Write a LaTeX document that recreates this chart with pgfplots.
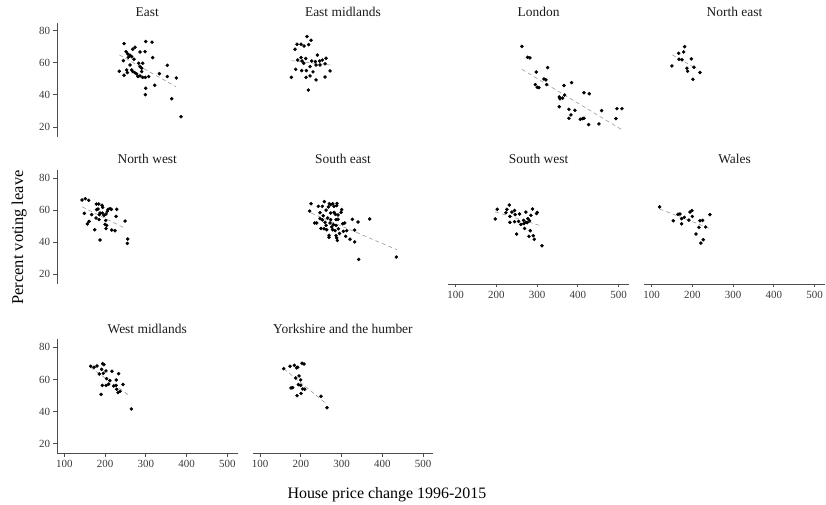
\documentclass[border=0pt]{standalone}
\usepackage{fontspec}
\setmainfont{Liberation Serif}
\usepackage{pgfplots}
\pgfplotsset{compat=1.18}
\definecolor{axcol}{HTML}{4D4D4D}
\definecolor{tickcol}{HTML}{3A3A3A}
\definecolor{titlecol}{HTML}{1A1A1A}
\definecolor{lmcol}{gray}{0.6}
\pgfplotsset{
  every axis title shift=0pt,
  panel/.style={
    scale only axis, width=180.5bp, height=114bp,
    xmin=82, xmax=525, ymin=14, ymax=85,
    xtick={100,200,300,400,500}, ytick={20,40,60,80},
    axis x line*=bottom, axis y line*=left,
    tick align=outside, major tick length=3.5bp,
    axis line style={draw=axcol, line width=0.8bp},
    tick style={draw=axcol, line width=0.8bp},
    tick label style={font=\fontsize{11}{13}\selectfont, text=tickcol},
    /pgf/number format/assume math mode=true,
    title style={at={(0.5,1)}, anchor=base, yshift=6bp, font=\fontsize{13.5}{16}\selectfont, text=titlecol},
    clip=false, anchor=south west,
  },
  pts/.style={only marks, mark=*, mark size=1.5bp, black, mark options={fill=black, draw=black, line width=0.5bp}},
  fit/.style={draw=lmcol, dash pattern=on 4bp off 3bp, line width=0.6bp, mark=none},
}
\begin{document}
\begin{tikzpicture}
\useasboundingbox (0,0) rectangle (826bp,505bp);
% Row 1
\begin{axis}[panel, at={(57bp,368.4bp)}, title={East}, hide x axis]
\addplot[pts] coordinates {(246.5,71.9)(299.7,73.2)(315.3,72.8)(267.8,68.4)(273.5,69.6)(285.8,66.7)(298,66.9)(251.4,66.9)(255.5,65.5)(261.2,64.7)(257.1,63.4)(265.3,63.8)(244.9,61.3)(271,62.2)(316.8,63.2)(261.2,58.6)(282.5,59.7)(292.3,59.7)(285.8,57.6)(289.9,56.6)(235,54.7)(253,55.5)(254.7,53.9)(267.8,54.5)(272.6,53.9)(277.5,53)(280.8,51.4)(285.8,51.8)(292.3,50.9)(298.8,50.9)(307,51.4)(246.5,52.2)(333.2,53.2)(352.8,58.4)(352.8,51.4)(374.9,50.5)(299.7,44.1)(321.8,46)(298.8,40.1)(363.5,37.6)(386.4,26.4)(265.3,55.5)(289.9,54.5)};
\addplot[fit] coordinates {(235,64.9)(374,45.1)};
\end{axis}
\begin{axis}[panel, at={(252.7bp,368.4bp)}, title={East midlands}, hide x axis, hide y axis]
\addplot[pts] coordinates {(215.3,76.3)(225.2,74)(190.8,71.5)(200.6,71.5)(208,70.4)(219.4,71.3)(185.9,68.4)(240.7,64.8)(200.6,63.2)(212.1,62.6)(192.4,61.7)(203.1,61.1)(207.2,59.7)(226.8,61.1)(235.8,60.7)(246.4,61.1)(253,61.7)(262,62.8)(237.4,58.6)(247.2,58.6)(259.5,59.3)(222.7,57.6)(187.5,55.9)(202.2,55.1)(213.7,55.1)(230,54.3)(271.8,54.9)(176.9,50.9)(212.9,50.9)(222.7,51.8)(237.4,49.3)(259.5,51.1)(218.6,43)};
\addplot[fit] coordinates {(176.9,61.3)(271.8,58.6)};
\end{axis}
\begin{axis}[panel, at={(448.3bp,368.4bp)}, title={London}, hide x axis, hide y axis]
\addplot[pts] coordinates {(262.7,70.2)(276.6,63.4)(282.3,63)(297.9,54.2)(325.7,57)(295.5,46.4)(300.4,44.7)(304.5,44.5)(316.7,49.9)(321.6,49.3)(323.3,46.4)(365.8,45.8)(384.6,47.6)(414.9,41.3)(428,40.7)(354.3,38.7)(356,37.6)(362.5,38)(367.4,39.9)(354.3,32.6)(378,31)(392.7,30.4)(383,27.5)(378,25.4)(405.9,24.8)(411.6,25.2)(414.9,25.4)(426.3,21.5)(451.7,21.9)(458.2,30.2)(493.4,25.2)(495.9,31.4)(508.2,31.4)};
\addplot[fit] coordinates {(262.7,55.9)(506.6,18.5)};
\end{axis}
\begin{axis}[panel, at={(644.3bp,368.4bp)}, title={North east}, hide x axis, hide y axis]
\addplot[pts] coordinates {(181,70)(166.3,65.9)(178.5,66.7)(167.1,62.2)(174.5,61.8)(197.3,62.4)(149.8,58)(186.6,56.6)(188.3,54.7)(203.8,57.2)(218.5,53.9)(201.3,49.7)};
\addplot[fit] coordinates {(150.6,64.9)(212,56)};
\end{axis}
% Row 2
\begin{axis}[panel, at={(57bp,221bp)}, title={North west}, hide x axis]
\addplot[pts] coordinates {(143.5,66.3)(151.6,67.1)(159.8,66.1)(149.1,58)(167.1,57.2)(156.5,51.4)(160.6,53)(174.5,47.8)(187.6,41.4)(178.6,63.8)(184.3,63.8)(192.5,63)(194.2,61.7)(179.4,60.3)(182.7,60.7)(187.6,58.2)(193.3,58.2)(186,57.2)(202.3,57.6)(205.6,59.3)(177.8,55.1)(185.1,54.1)(197.5,56.8)(201.6,53.6)(199.9,51.1)(204,50.5)(202.3,48.5)(207.3,60.5)(212.2,60.9)(215.5,60.5)(228.6,60.5)(227,56.1)(216.3,47.6)(224.4,47.2)(249.1,53.2)(255.6,42)(254.7,39.3)};
\addplot[fit] coordinates {(143.5,62.1)(248.2,48.8)};
\end{axis}
\begin{axis}[panel, at={(252.7bp,221bp)}, title={South east}, hide x axis, hide y axis]
\addplot[pts] coordinates {(225.2,64)(221.9,59.4)(243.1,62.4)(252.9,62.4)(257.8,65.3)(270.1,64)(273.4,63.4)(278.3,64)(288.9,64.2)(267.7,62)(281.6,62.4)(288.1,62.8)(300.4,60.3)(298.8,58.6)(247.2,58.4)(273.4,58.2)(281.6,58.6)(284.9,57.4)(291.4,57)(247.2,54.7)(252.9,53.9)(266,55.1)(273.4,54.1)(286.5,54.1)(291.4,54.3)(234.2,52)(239.1,52)(259.5,52.4)(271.8,52)(280,51)(286.5,50.5)(302.9,51.5)(307.8,52)(326.6,54.3)(340.5,52.6)(369.1,54.5)(249.7,48.6)(257.1,48.4)(263.6,47.8)(278.3,47.8)(284.1,47.2)(292.2,48.4)(304.5,46.8)(312.7,47.2)(332.3,47.6)(269.3,44.3)(269.3,43.1)(286.5,44.1)(288.1,42.7)(289.8,41.1)(310.2,43.7)(320.9,41.9)(332.3,40.2)(342.1,29.3)(434.6,30.8)(262,50.5)(276,49.5)(295,45.5)(255,56.5)(262,60)};
\addplot[fit] coordinates {(225.2,58.2)(435.4,35.4)};
\end{axis}
\begin{axis}[panel, at={(448.3bp,221bp)}, title={South west}, hide y axis]
\addplot[pts] coordinates {(202.1,60.5)(197.2,54.5)(225.9,60.5)(231.6,63.2)(223.4,58.4)(233.2,56.1)(238.1,58.8)(244.6,59.8)(246.2,57.2)(256.8,57.6)(272.4,58.8)(277.3,54.7)(284.7,56.8)(281.4,53.4)(288.8,60.7)(300.3,58.6)(298.7,57.9)(233.2,52.4)(244.6,52.8)(254.4,53)(260.2,51.1)(266.7,53.6)(272.4,52.4)(267.5,51.6)(249.7,45.1)(269.2,48.6)(275.7,52.2)(283.2,47.2)(279.9,43.7)(290.5,44.1)(293,41.8)(311.8,37.8)};
\addplot[fit] coordinates {(197.2,59)(308.5,50.3)};
\end{axis}
\begin{axis}[panel, at={(644.3bp,221bp)}, title={Wales}, hide y axis]
\addplot[pts] coordinates {(119.6,62)(153.2,53.4)(164.6,57.4)(169.5,57.6)(173.6,54.7)(180.1,55.5)(191.5,53.8)(194,58.8)(198.9,59.7)(199.7,56.1)(173.6,51.5)(218.5,53.4)(225,53.6)(216.1,49.3)(232.5,49.5)(243.1,57.2)(208.8,45.1)(226.6,41.6)(220.9,39.5)};
\addplot[fit] coordinates {(119.6,60.7)(244.7,48.4)};
\end{axis}
% Row 3
\begin{axis}[panel, at={(57bp,51.7bp)}, title={West midlands}]
\addplot[pts] coordinates {(164.7,68.2)(172.9,67.6)(180.2,68.4)(194,69.8)(197.2,69.2)(191.5,66.3)(185.9,63.4)(195.6,63.8)(202.1,65.3)(216.8,65.1)(233.2,63.6)(203.7,60.5)(211.8,59.3)(227.4,59.7)(193.3,56.3)(202.3,56.3)(208.8,57.1)(221.2,55.9)(226.9,56.3)(244,56.9)(228.6,53.9)(231.8,51.8)(236.7,52.6)(190.1,50.7)(264.5,41.6)};
\addplot[fit] coordinates {(164.7,67.5)(256.3,50.5)};
\end{axis}
\begin{axis}[panel, at={(252.7bp,51.7bp)}, title={Yorkshire and the humber}, hide y axis]
\addplot[pts] coordinates {(158.1,66.7)(173.6,68.2)(184.3,68.8)(190,67.2)(192.4,67.6)(203.1,70.1)(208,69.6)(187.5,60.9)(195.7,62.2)(199.8,59.7)(176.1,54.7)(180.2,54.9)(194.1,56.8)(199.8,56.3)(204.7,54.1)(209.6,53.9)(200.6,51.3)(190.8,49.9)(249.7,49.5)(264.4,42.4)};
\addplot[fit] coordinates {(158.1,66.7)(263.6,44.7)};
\end{axis}
% Axis titles
\node[anchor=base west, font=\fontsize{16}{19}\selectfont] at (284bp,7bp) {House price change 1996-2015};
\node[rotate=90, anchor=base, font=\fontsize{16.5}{19}\selectfont] at (23bp,267.5bp) {Percent voting leave};
\end{tikzpicture}
\end{document}
